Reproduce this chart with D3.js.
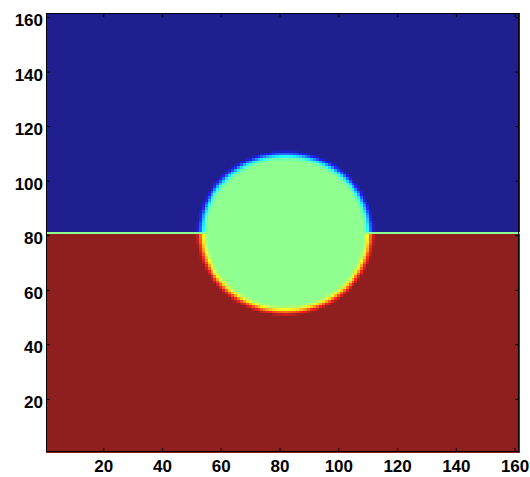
<!DOCTYPE html>
<html>
<head>
<meta charset="utf-8">
<script src="https://cdn.jsdelivr.net/npm/d3@7"></script>
<style>
  html, body { margin: 0; padding: 0; background: #fff; }
  svg { display: block; }
  .tick text { font-family: "Liberation Sans", Arial, sans-serif; font-weight: bold; font-size: 17px; fill: #000; }
</style>
</head>
<body>
<svg id="chart" width="530" height="477"></svg>
<script>
// Grid of the phase field (cells 1..N in both directions)
const gridSize = [161];
// Tick labels on both axes
const xTicks = [20, 40, 60, 80, 100, 120, 140, 160];
const yTicks = [20, 40, 60, 80, 100, 120, 140, 160];
// Phase levels: upper region, lower region, disc / interface row
const upperLevel = [0.0];
const lowerLevel = [1.0];
const discLevel = [0.5];
// Disc geometry (cell units)
const discCenter = [82, 81];
const discRadius = [28];
// Row that carries the flat interface between the two outer phases
const interfaceRow = [81];
// Diffuse edge of the disc: signed distance inside the rim -> blend toward disc level
const edgeOffsets = [-2.5, -1.5, -0.5, 0.5, 1.5];
const edgeWeights = [0.0, 0.25, 0.6, 0.9, 1.0];

const margin = { left: 46, right: 11, top: 13, bottom: 25 };
const W = 530, H = 477;
const N = gridSize[0];

const svg = d3.select("#chart");
const x = d3.scaleLinear().domain([0.5, N + 0.5]).range([margin.left, W - margin.right]);
const y = d3.scaleLinear().domain([0.5, N + 0.5]).range([H - margin.bottom, margin.top]);

// MATLAB-style jet colormap, softened slightly toward white
function jet(v) {
  const c = t => Math.max(0, Math.min(1, t));
  const r = c(1.5 - Math.abs(4 * v - 3));
  const g = c(1.5 - Math.abs(4 * v - 2));
  const b = c(1.5 - Math.abs(4 * v - 1));
  const soften = 0.12;
  const m = t => Math.round(255 * (t * (1 - soften) + soften));
  return `rgb(${m(r)},${m(g)},${m(b)})`;
}

const edgeScale = d3.scaleLinear().domain(edgeOffsets).range(edgeWeights).clamp(true);

const cells = [];
for (let j = 1; j <= N; j++) {
  const outer = j > interfaceRow[0] ? upperLevel[0] : (j < interfaceRow[0] ? lowerLevel[0] : discLevel[0]);
  for (let i = 1; i <= N; i++) {
    const dist = Math.hypot(i - discCenter[0], j - discCenter[1]);
    const w = edgeScale(discRadius[0] - dist);
    cells.push({ i, j, v: outer + (discLevel[0] - outer) * w });
  }
}

const cw = x(1.5) - x(0.5);
const ch = y(0.5) - y(1.5);

svg.append("g")
  .attr("shape-rendering", "crispEdges")
  .selectAll("rect")
  .data(cells)
  .join("rect")
  .attr("x", d => x(d.i - 0.5))
  .attr("y", d => y(d.j + 0.5))
  .attr("width", cw + 0.5)
  .attr("height", ch + 0.5)
  .attr("fill", d => jet(d.v));

// Axes with inward ticks on all four sides
const tickLen = 4;
const gx = svg.append("g").attr("transform", `translate(0,${H - margin.bottom})`)
  .call(d3.axisBottom(x).tickValues(xTicks).tickSize(-tickLen).tickPadding(8).tickFormat(d3.format("d")));
const gy = svg.append("g").attr("transform", `translate(${margin.left},0)`)
  .call(d3.axisLeft(y).tickValues(yTicks).tickSize(-tickLen).tickPadding(3).tickFormat(d3.format("d")));
gy.selectAll(".tick text").attr("dy", "0.5em");
const gt = svg.append("g").attr("transform", `translate(0,${margin.top})`)
  .call(d3.axisTop(x).tickValues(xTicks).tickSize(-tickLen).tickFormat(""));
const gr = svg.append("g").attr("transform", `translate(${W - margin.right},0)`)
  .call(d3.axisRight(y).tickValues(yTicks).tickSize(-tickLen).tickFormat(""));

[gx, gy, gt, gr].forEach(g => {
  g.select(".domain").remove();
  g.selectAll(".tick line").attr("stroke", "#000").attr("stroke-width", 1);
});

svg.append("rect")
  .attr("x", margin.left + 0.5).attr("y", margin.top + 0.5)
  .attr("width", W - margin.left - margin.right - 1)
  .attr("height", H - margin.top - margin.bottom - 1)
  .attr("fill", "none").attr("stroke", "#000").attr("stroke-width", 1);
</script>
</body>
</html>
